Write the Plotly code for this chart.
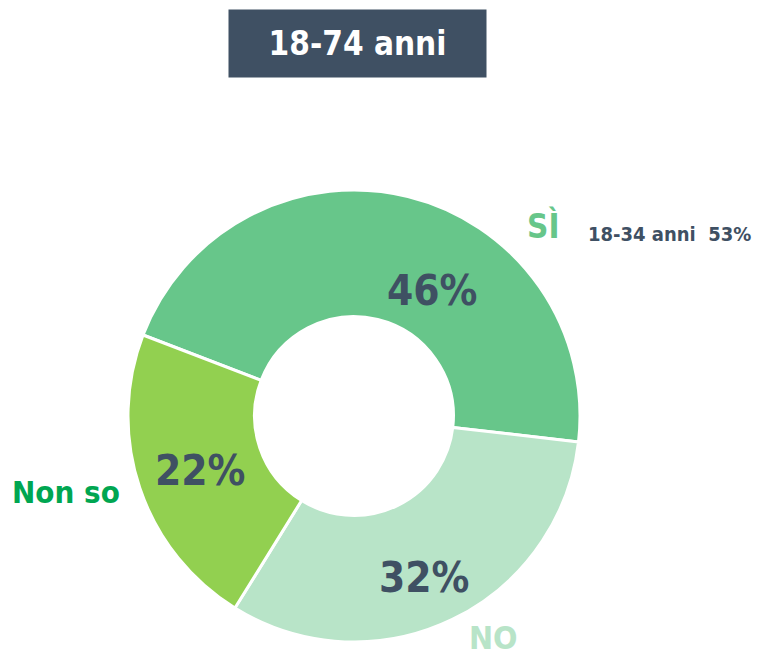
import plotly.graph_objects as go

W, H = 761, 657
OFF = 8  # page body margin offset

# Data
categories = ["Sì", "NO", "Non so"]
display_labels = ["SÌ", "NO", "Non so"]
values = [46, 32, 22]
slice_colors = ["#67c68a", "#b8e4c8", "#92d050"]
label_colors = ["#67c68a", "#b8e4c8", "#00a651"]
title_text = "18-74 anni"
sub_note = "18-34 anni  53%"

DARK = "#3f5063"
FONT = "DejaVu Sans Condensed, Roboto, sans-serif"

def px(x):
    return (x - OFF) / W

def py(y):
    return 1 - (y - OFF) / H

cx, cy, R = 354, 416, 226

fig = go.Figure(go.Pie(
    labels=categories,
    values=values,
    hole=0.44,
    sort=False,
    direction="clockwise",
    rotation=-69,
    marker=dict(colors=slice_colors, line=dict(color="white", width=3)),
    textinfo="none",
    hoverinfo="label+percent",
    domain=dict(x=[px(cx - R), px(cx + R)], y=[py(cy + R), py(cy - R)]),
    showlegend=False,
))

annotations = []
annotations.append(dict(
    x=px(357.5), y=py(43.5), xref="paper", yref="paper",
    text="<b>%s</b>" % title_text, showarrow=False,
    font=dict(family=FONT, size=33, color="white"),
    bgcolor=DARK, width=257, height=67, borderpad=0,
    xanchor="center", yanchor="middle",
))

pct_pos = [(432, 290), (424, 577), (200, 470)]
for v, (x, y) in zip(values, pct_pos):
    annotations.append(dict(
        x=px(x), y=py(y), xref="paper", yref="paper",
        text="<b>%d%%</b>" % v, showarrow=False,
        font=dict(family=FONT, size=42, color=DARK),
        xanchor="center", yanchor="middle",
    ))

lab_pos = [(543, 226), (493, 638), (66, 492)]
lab_sizes = [33, 32, 31]
for t, c, (x, y), s in zip(display_labels, label_colors, lab_pos, lab_sizes):
    annotations.append(dict(
        x=px(x), y=py(y), xref="paper", yref="paper",
        text="<b>%s</b>" % t, showarrow=False,
        font=dict(family=FONT, size=s, color=c),
        xanchor="center", yanchor="middle",
    ))

annotations.append(dict(
    x=px(753), y=py(234), xref="paper", yref="paper",
    text="<b>%s</b>" % sub_note.replace("  ", "&nbsp; "), showarrow=False,
    font=dict(family=FONT, size=20, color=DARK),
    xanchor="right", yanchor="middle",
))

fig.update_layout(
    width=W, height=H,
    margin=dict(l=0, r=0, t=0, b=0),
    paper_bgcolor="white", plot_bgcolor="white",
    annotations=annotations,
)

fig.write_html("out.html")
